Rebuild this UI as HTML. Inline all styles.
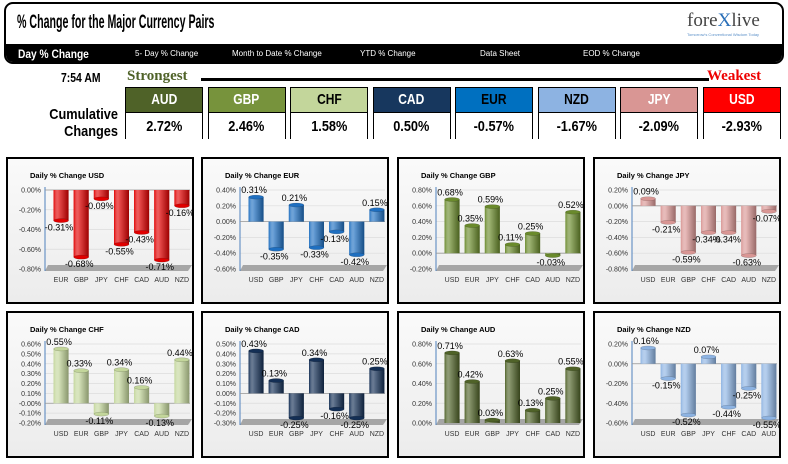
<!DOCTYPE html>
<html><head><meta charset="utf-8">
<style>
body{margin:0;width:788px;height:464px;background:#fff;font-family:"Liberation Sans",sans-serif;overflow:hidden;position:relative}
.abs{position:absolute}
#hdr{left:4px;top:2px;width:776px;height:58px;border:2px solid #000;border-radius:9px;overflow:hidden}
#title{left:11px;top:8px;font-weight:bold;font-size:19px;transform:scaleX(0.56);transform-origin:left;white-space:nowrap}
#nav{left:0;top:40px;width:776px;height:20px;background:#000;color:#fff}
.nav{position:absolute;top:5px;font-size:8px;white-space:nowrap}
.box{position:absolute;top:87px;width:78px;height:52px;border:1px solid #000;box-sizing:border-box}
.box .h{height:24px;line-height:24px;text-align:center;font-weight:bold;font-size:15px;border-bottom:1px solid #000}
.box .h span{display:inline-block;transform:scaleX(0.8)}
.box .v{height:27px;line-height:27px;text-align:center;font-weight:bold;font-size:15px;background:#fff}
.box .v span{display:inline-block;transform:scaleX(0.85)}
.panel{position:absolute;width:184px;height:143px;border:2px solid #000;background:linear-gradient(#fafafa,#ececec)}
</style></head><body>
<div id="hdr" class="abs">
 <div id="title" class="abs">% Change for the Major Currency Pairs</div>
 <div class="abs" style="left:681px;top:6px;font-family:'Liberation Serif',serif;font-size:19px;color:#444">fore<span style="color:#2a6fb8">X</span>live</div>
 <div class="abs" style="left:681px;top:28px;font-size:4px;color:#5a8fc8;white-space:nowrap">Tomorrow's Conventional Wisdom Today</div>
 <div id="nav" class="abs">
  <div class="nav" style="left:12px;top:3px;font-size:12px;font-weight:bold;transform:scaleX(0.85);transform-origin:left">Day % Change</div>
  <div class="nav" style="left:129px">5- Day % Change</div>
  <div class="nav" style="left:226px">Month to Date % Change</div>
  <div class="nav" style="left:354px">YTD % Change</div>
  <div class="nav" style="left:474px">Data Sheet</div>
  <div class="nav" style="left:577px">EOD % Change</div>
 </div>
</div>
<div class="abs" style="left:61px;top:70px;font-weight:bold;font-size:13px;transform:scaleX(0.8);transform-origin:left">7:54 AM</div>
<div class="abs" style="left:127px;top:68px;font-weight:bold;font-size:15px;color:#4f6228;font-family:'Liberation Serif',serif">Strongest</div>
<div class="abs" style="left:201px;top:78px;width:508px;height:3px;background:#000"></div>
<div class="abs" style="left:707px;top:68px;font-weight:bold;font-size:15px;color:#e00;font-family:'Liberation Serif',serif">Weakest</div>
<div class="abs" style="left:20px;top:106px;width:98px;text-align:right;font-weight:bold;font-size:15px;line-height:17px;transform:scaleX(0.85);transform-origin:right">Cumulative<br>Changes</div>
<div id="boxes"></div>
<div id="panels"></div>
<script>
const boxCur=["AUD","GBP","CHF","CAD","EUR","NZD","JPY","USD"];
const boxVal=["2.72%","2.46%","1.58%","0.50%","-0.57%","-1.67%","-2.09%","-2.93%"];
const boxBg=["#4f6228","#77933c","#c3d69b","#17375e","#0070c0","#8db3e2","#d99694","#ff0000"];
const boxFg=["#fff","#fff","#000","#fff","#000","#000","#fff","#fff"];
const bc=document.getElementById('boxes');
boxCur.forEach((c,i)=>{
 const d=document.createElement('div');d.className='box';d.style.left=(125+i*82.5)+'px';
 
 
 d.innerHTML='<div class="h" style="background:'+boxBg[i]+';color:'+boxFg[i]+'"><span>'+c+'</span></div><div class="v"><span>'+boxVal[i]+'</span></div>';
 bc.appendChild(d);
});

const chartNames=["USD","EUR","GBP","JPY","CHF","CAD","AUD","NZD"];
const chartCats=[
 ["EUR","GBP","JPY","CHF","CAD","AUD","NZD"],
 ["USD","GBP","JPY","CHF","CAD","AUD","NZD"],
 ["USD","EUR","JPY","CHF","CAD","AUD","NZD"],
 ["USD","EUR","GBP","CHF","CAD","AUD","NZD"],
 ["USD","EUR","GBP","JPY","CAD","AUD","NZD"],
 ["USD","EUR","GBP","JPY","CHF","AUD","NZD"],
 ["USD","EUR","GBP","JPY","CHF","CAD","NZD"],
 ["USD","EUR","GBP","JPY","CHF","CAD","AUD"]];
const chartVals=[
 [-0.31,-0.68,-0.09,-0.55,-0.43,-0.71,-0.16],
 [0.31,-0.35,0.21,-0.33,-0.13,-0.42,0.15],
 [0.68,0.35,0.59,0.11,0.25,-0.03,0.52],
 [0.09,-0.21,-0.59,-0.34,-0.34,-0.63,-0.07],
 [0.55,0.33,-0.11,0.34,0.16,-0.13,0.44],
 [0.43,0.13,-0.25,0.34,-0.16,-0.25,0.25],
 [0.71,0.42,0.03,0.63,0.13,0.25,0.55],
 [0.16,-0.15,-0.52,0.07,-0.44,-0.25,-0.55]];
const axisMax=[0,0.4,0.8,0.2,0.6,0.5,0.8,0.2];
const axisMin=[-0.8,-0.6,-0.2,-0.8,-0.2,-0.3,0,-0.6];
const axisStep=[0.2,0.2,0.2,0.2,0.1,0.1,0.2,0.2];
const chartColor=["#e00000","#1f6fc0","#6a8a2c","#d99694","#c3d69b","#142f55","#4f6228","#8db3e2"];
const NS="http://www.w3.org/2000/svg";
const pc=document.getElementById('panels');
function mk(t,a,p){const e=document.createElementNS(NS,t);for(const k in a)e.setAttribute(k,a[k]);p.appendChild(e);return e;}
chartNames.forEach((nm,ci)=>{
 const col=ci%4,row=Math.floor(ci/4);
 const px=[6,201,397,593][col],py=[157,311][row];
 const d=document.createElement('div');d.className='panel';d.style.left=px+'px';d.style.top=py+'px';
 
 
 pc.appendChild(d);
 const s=document.createElementNS(NS,'svg');s.setAttribute('width',184);s.setAttribute('height',143);s.style.position='absolute';
 d.appendChild(s);
 const T=31,B=110,L=37,R=182;
 const ymax=axisMax[ci],ymin=axisMin[ci];
 const y=v=>T+(ymax-v)/(ymax-ymin)*(B-T);
 const n=chartCats[ci].length,pitch=(R-L-4)/n;
 const x=i=>L+6+pitch*(i+0.5);
 const tt=mk('text',{x:22,y:19,'font-size':7.5,'font-weight':'bold','font-family':'Liberation Sans'},s);tt.textContent='Daily % Change '+nm;
 
 
 const nt=Math.round((ymax-ymin)/axisStep[ci]);
 for(let k=0;k<=nt;k++){const v=ymax-k*axisStep[ci];const yy=y(v);
  mk('line',{x1:L,x2:R,y1:yy,y2:yy,stroke:'#dcdcdc','stroke-width':0.7},s);
  const t=mk('text',{x:L-4,y:yy+2.5,'font-size':7,'text-anchor':'end',fill:'#333'},s);t.textContent=v.toFixed(2)+'%';
  
  
 }
 mk('polygon',{points:`${L+3},${B-4} ${R+2},${B-4} ${R-2},${B+2} ${L},${B+2}`,fill:'#a6a6a6'},s);
 mk('line',{x1:L,x2:L,y1:T-3,y2:B+2,stroke:'#4f81bd','stroke-width':1},s);
 const y0=y(0);
 if(ymin<0) mk('line',{x1:L,x2:R,y1:y0,y2:y0,stroke:'#999','stroke-width':0.8},s);
 const gid='g'+ci;
 const g=mk('linearGradient',{id:gid,x1:0,x2:1,y1:0,y2:0},mk('defs',{},s));
 mk('stop',{offset:'0',  'stop-color':chartColor[ci],'stop-opacity':1},g);
 mk('stop',{offset:'0.35','stop-color':'#fff','stop-opacity':0.3},g);
 mk('stop',{offset:'1','stop-color':'#000','stop-opacity':0.3},g);
 chartVals[ci].forEach((v,i)=>{
  const cx=x(i),w=15,yt=Math.min(y(v),y0),h=Math.abs(y(v)-y0);
  const b=mk('g',{},s);
  
  
  mk('rect',{x:cx-w/2,y:yt,width:w,height:Math.max(h,1),fill:chartColor[ci]},b);
  mk('rect',{x:cx-w/2,y:yt,width:w,height:Math.max(h,1),fill:'url(#'+gid+')'},b);
  mk('ellipse',{cx:cx,cy:y(v),rx:w/2,ry:2,fill:chartColor[ci],stroke:'rgba(0,0,0,0.25)','stroke-width':0.5},b);
  const lt=mk('text',{x:cx-2,y:v>=0?y(v)-4:y(v)+10,'font-size':9,'text-anchor':'middle',fill:'#000'},s);
  lt.textContent=v.toFixed(2)+'%';
  
  
  const ct=mk('text',{x:cx,y:B+13,'font-size':7,'text-anchor':'middle',fill:'#333'},s);ct.textContent=chartCats[ci][i];
  
  
 });
});
</script>
</body></html>
